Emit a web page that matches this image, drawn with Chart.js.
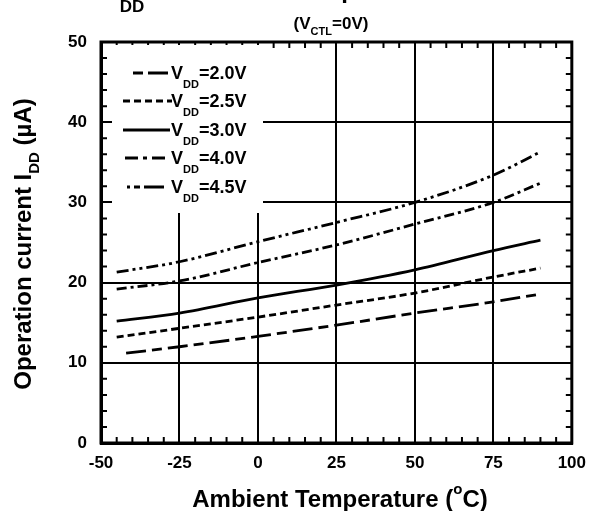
<!DOCTYPE html>
<html>
<head>
<meta charset="utf-8">
<script src="https://cdn.jsdelivr.net/npm/chart.js@4.4.1/dist/chart.umd.min.js"></script>
<style>
  html, body { margin: 0; padding: 0; background: #fff; }
  #wrap { width: 596px; height: 511px; }
</style>
</head>
<body>
<div id="wrap"><canvas id="chart" width="596" height="511"></canvas></div>
<script>
// data
const temps = [-45, -25, 0, 25, 50, 75, 90];
const temps20 = [-42, -25, 0, 25, 50, 75, 89];
const vdd20 = [11.2, 12.0, 13.3, 14.7, 16.2, 17.6, 18.5];
const vdd25 = [13.2, 14.3, 15.7, 17.2, 18.7, 20.7, 21.8];
const vdd30 = [15.2, 16.2, 18.1, 19.7, 21.6, 24.0, 25.3];
const vdd40 = [19.2, 20.2, 22.5, 24.7, 27.3, 30.0, 32.4];
const vdd45 = [21.3, 22.6, 25.1, 27.5, 30.0, 33.4, 36.3];
const seriesNames = ['2.0V', '2.5V', '3.0V', '4.0V', '4.5V'];
const xTicks = [-50, -25, 0, 25, 50, 75, 100];
const yTicks = [0, 10, 20, 30, 40, 50];

const FONT = '"Liberation Sans", Arial, sans-serif';
const dashes = [[20, 6, 10, 6], [7, 4], [], [10, 4, 3, 4], [12, 4, 3, 4, 3, 4]];
const legendDashes = [[10, 5, 20, 5], [7, 4], [], [13, 5, 4, 5], [3, 4, 6, 4, 20, 4]];

function pts(xs, ys) {
    return xs.map((x, i) => ({ x: x, y: ys[i] }));
}

const dataSets = [
    pts(temps20, vdd20), pts(temps, vdd25), pts(temps, vdd30), pts(temps, vdd40), pts(temps, vdd45)
].map((d, i) => ({
    label: 'VDD=' + seriesNames[i],
    data: d,
    borderColor: '#000',
    borderWidth: 2.8,
    borderDash: dashes[i],
    pointRadius: 0,
    fill: false,
    cubicInterpolationMode: 'monotone'
}));

// text with subscript parts
function textWidth(ctx, parts, big, small) {
    let w = 0;
    parts.forEach(p => {
        ctx.font = 'bold ' + (p.sub ? small : big) + 'px ' + FONT;
        w += ctx.measureText(p.t).width;
    });
    return w;
}
function subText(ctx, x, y, parts, big, small, drop) {
    parts.forEach(p => {
        ctx.font = 'bold ' + (p.sub ? small : big) + 'px ' + FONT;
        ctx.fillText(p.t, x, p.sub ? y + drop : y);
        x += ctx.measureText(p.t).width;
    });
    return x;
}

const framePlugin = {
    id: 'frame',
    afterDraw(chart) {
        const ctx = chart.ctx;
        const a = chart.chartArea;
        const xs = chart.scales.x, ys = chart.scales.y;
        ctx.save();
        ctx.strokeStyle = '#000';
        ctx.fillStyle = '#000';

        // minor ticks, inward
        ctx.lineWidth = 2;
        ctx.beginPath();
        for (let v = -50; v <= 100; v += 5) {
            if (v % 25 === 0) continue;
            const px = xs.getPixelForValue(v);
            ctx.moveTo(px, a.bottom); ctx.lineTo(px, a.bottom - 6);
            ctx.moveTo(px, a.top); ctx.lineTo(px, a.top + 6);
        }
        for (let v = 0; v <= 50; v += 2) {
            if (v % 10 === 0) continue;
            const py = ys.getPixelForValue(v);
            ctx.moveTo(a.left, py); ctx.lineTo(a.left + 6, py);
            ctx.moveTo(a.right, py); ctx.lineTo(a.right - 6, py);
        }
        ctx.stroke();

        // frame
        ctx.lineWidth = 3;
        ctx.strokeRect(a.left, a.top, a.right - a.left, a.bottom - a.top);

        // legend
        ctx.fillStyle = '#fff';
        ctx.fillRect(a.left + 11, a.top + 3, 151, 168);
        ctx.fillStyle = '#000';
        const rowY = [73, 101, 130, 158, 187];
        const sampleX = [[133, 168], [123, 172], [123, 170], [125, 165], [127, 168]];
        rowY.forEach((y, i) => {
            ctx.lineWidth = 2.8;
            ctx.setLineDash(legendDashes[i]);
            ctx.beginPath();
            ctx.moveTo(sampleX[i][0], y);
            ctx.lineTo(sampleX[i][1], y);
            ctx.stroke();
            ctx.setLineDash([]);
            ctx.textBaseline = 'alphabetic';
            ctx.textAlign = 'left';
            subText(ctx, 171, y + 6, [{ t: 'V' }, { t: 'DD', sub: true }, { t: '=' + seriesNames[i] }], 18, 11, 9);
        });

        ctx.textAlign = 'left';
        ctx.textBaseline = 'alphabetic';

        // chart title, cut off at the top edge
        subText(ctx, 113, -2, [{ t: 'I' }, { t: 'DD', sub: true }, { t: ' vs. Ambient Temperature' }], 24, 17, 14);

        // subtitle
        const sparts = [{ t: '(V' }, { t: 'CTL', sub: true }, { t: '=0V)' }];
        const sw = textWidth(ctx, sparts, 17, 11);
        subText(ctx, 331 - sw / 2, 29, sparts, 17, 11, 6);

        // x axis title
        const t1 = 'Ambient Temperature (', t3 = 'C)';
        ctx.font = 'bold 24px ' + FONT;
        const w1 = ctx.measureText(t1).width, w3 = ctx.measureText(t3).width;
        ctx.font = 'bold 15px ' + FONT;
        const w2 = ctx.measureText('o').width;
        const x0 = 340 - (w1 + w2 + w3) / 2;
        ctx.font = 'bold 24px ' + FONT;
        ctx.fillText(t1, x0, 507);
        ctx.font = 'bold 15px ' + FONT;
        ctx.fillText('o', x0 + w1, 494);
        ctx.font = 'bold 24px ' + FONT;
        ctx.fillText(t3, x0 + w1 + w2, 507);

        // y axis title
        ctx.save();
        ctx.translate(31, 244);
        ctx.rotate(-Math.PI / 2);
        const yparts = [{ t: 'Operation current I' }, { t: 'DD', sub: true }, { t: ' (\u00b5A)' }];
        const yw = textWidth(ctx, yparts, 24, 15);
        subText(ctx, -yw / 2, 0, yparts, 24, 15, 8);
        ctx.restore();

        ctx.restore();
    }
};

const chart = new Chart(document.getElementById('chart'), {
    type: 'line',
    data: { datasets: dataSets },
    options: {
        responsive: false,
        animation: false,
        devicePixelRatio: 1,
        layout: { padding: { left: 0, top: 42, right: 16, bottom: 0 } },
        plugins: { legend: { display: false }, tooltip: { enabled: false } },
        scales: {
            x: {
                type: 'linear',
                min: -50,
                max: 100,
                afterBuildTicks: s => { s.ticks = xTicks.map(v => ({ value: v })); },
                afterFit: s => { s.height = 68; },
                ticks: { color: '#000', font: { family: FONT, size: 17, weight: 'bold' }, padding: 10, maxRotation: 0 },
                grid: { color: '#000', lineWidth: 2, drawTicks: false },
                border: { color: '#000', width: 3 }
            },
            y: {
                min: 0,
                max: 50,
                afterBuildTicks: s => { s.ticks = yTicks.map(v => ({ value: v })); },
                afterFit: s => { s.width = 101; },
                ticks: { color: '#000', font: { family: FONT, size: 17, weight: 'bold' }, padding: 14 },
                grid: { color: '#000', lineWidth: 2, drawTicks: false },
                border: { color: '#000', width: 3 }
            }
        }
    },
    plugins: [framePlugin]
});
</script>
</body>
</html>
